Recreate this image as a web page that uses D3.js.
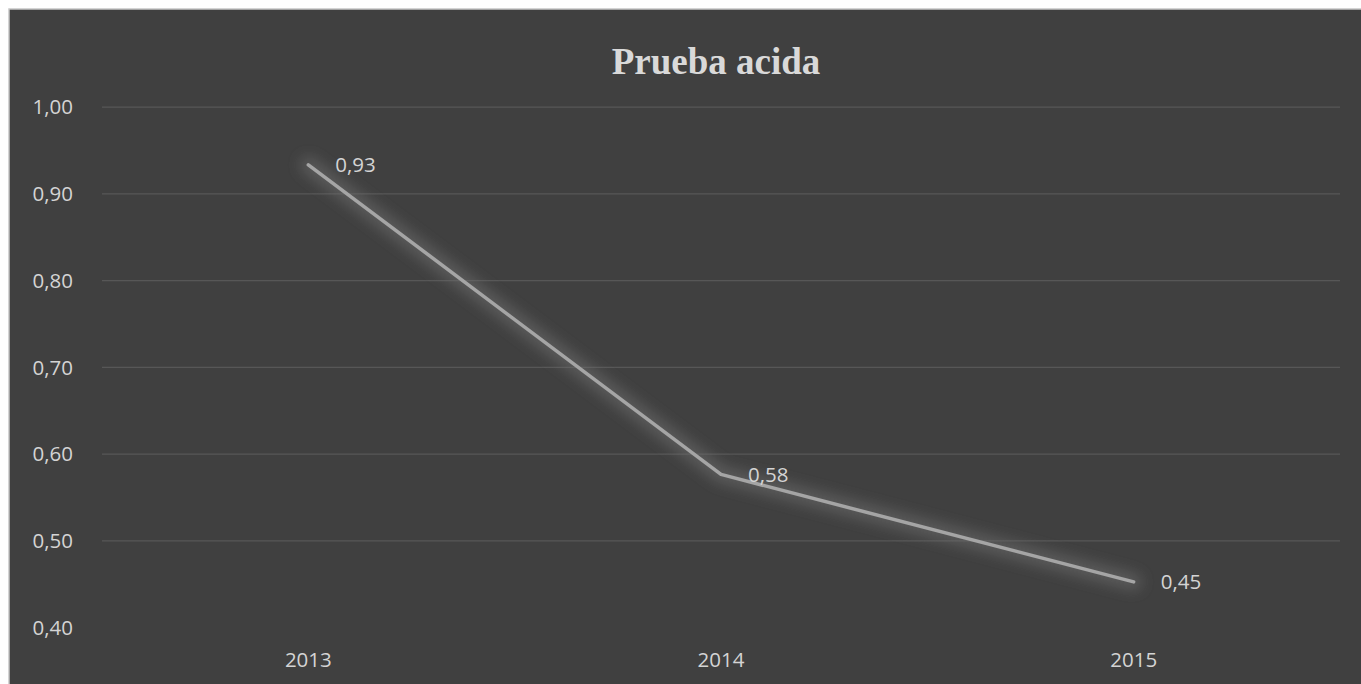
<!DOCTYPE html>
<html><head><meta charset="utf-8">
<script src="https://cdn.jsdelivr.net/npm/d3@7"></script>
<style>html,body{margin:0;padding:0;background:#fff;overflow:hidden}</style>
</head><body>
<script>
const categories = ["2013", "2014", "2015"];
const values = [0.933, 0.576, 0.452];
const valueLabels = ["0,93", "0,58", "0,45"];
const yTicks = [0.4, 0.5, 0.6, 0.7, 0.8, 0.9, 1.0];
const title = "Prueba acida";

const W = 1361, H = 684;
const svg = d3.select("body").append("svg").attr("width", W).attr("height", H);

// chart panel (extends past right and bottom edges, as in the reference)
svg.append("rect").attr("x", 9).attr("y", 9).attr("width", W + 10).attr("height", H + 10)
  .attr("fill", "#404040").attr("stroke", "#c6c6c6").attr("stroke-width", 1.5);

const pLeft = 102, pRight = 1340, pTop = 106.7, pBottom = 627;
const x = d3.scaleBand().domain(categories).range([pLeft, pRight]);
const y = d3.scaleLinear().domain([0.4, 1.0]).range([pBottom, pTop]);

const defs = svg.append("defs");
const f = defs.append("filter").attr("id", "glow").attr("x", "-20%").attr("y", "-20%").attr("width", "140%").attr("height", "140%");
f.append("feGaussianBlur").attr("stdDeviation", 7);

// gridlines
const yAxis = d3.axisLeft(y).tickValues(yTicks.filter(t => t > 0.4))
  .tickSize(-(pRight - pLeft)).tickFormat("");
svg.append("g").attr("transform", `translate(${pLeft},0)`).call(yAxis)
  .call(g => g.select(".domain").remove())
  .call(g => g.selectAll("line").attr("stroke", "#575757").attr("stroke-width", 1.3));

// y tick labels
const yLab = d3.axisLeft(y).tickValues(yTicks).tickSize(0).tickPadding(0)
  .tickFormat(d => d3.format(".2f")(d).replace(".", ","));
svg.append("g").attr("transform", `translate(73,0)`).call(yLab)
  .call(g => g.select(".domain").remove())
  .call(g => g.selectAll("text").attr("fill", "#d4d4d4").attr("font-family", "Open Sans")
    .attr("font-size", 20.5).attr("dy", "0.35em"));

// x labels
const xAx = d3.axisBottom(x).tickSize(0).tickPadding(0);
svg.append("g").attr("transform", `translate(0,667)`).call(xAx)
  .call(g => g.select(".domain").remove())
  .call(g => g.selectAll("text").attr("fill", "#d4d4d4").attr("font-family", "Open Sans")
    .attr("font-size", 20.5).attr("dy", 0).attr("y", 0));

const pts = categories.map((c, i) => [x(c) + x.bandwidth() / 2, y(values[i])]);
const line = d3.line();

svg.append("path").attr("d", line(pts)).attr("fill", "none")
  .attr("stroke", "#6e6e6e").attr("stroke-width", 16).attr("stroke-opacity", 0.6)
  .attr("stroke-linecap", "round").attr("stroke-linejoin", "round").attr("filter", "url(#glow)");
svg.append("path").attr("d", line(pts)).attr("fill", "none")
  .attr("stroke", "#a5a5a5").attr("stroke-width", 3.5)
  .attr("stroke-linecap", "round").attr("stroke-linejoin", "round");

// data labels
svg.append("g").selectAll("text").data(pts).join("text")
  .attr("x", d => d[0] + 27).attr("y", d => d[1]).attr("dy", "0.35em")
  .attr("fill", "#d4d4d4").attr("font-family", "Open Sans").attr("font-size", 20.5)
  .text((d, i) => valueLabels[i]);

// title
svg.append("text").attr("x", 716).attr("y", 74).attr("text-anchor", "middle")
  .attr("fill", "#d9d9d9").attr("font-family", "Liberation Serif").attr("font-weight", "bold")
  .attr("font-size", 37).text(title);
</script>
</body></html>
